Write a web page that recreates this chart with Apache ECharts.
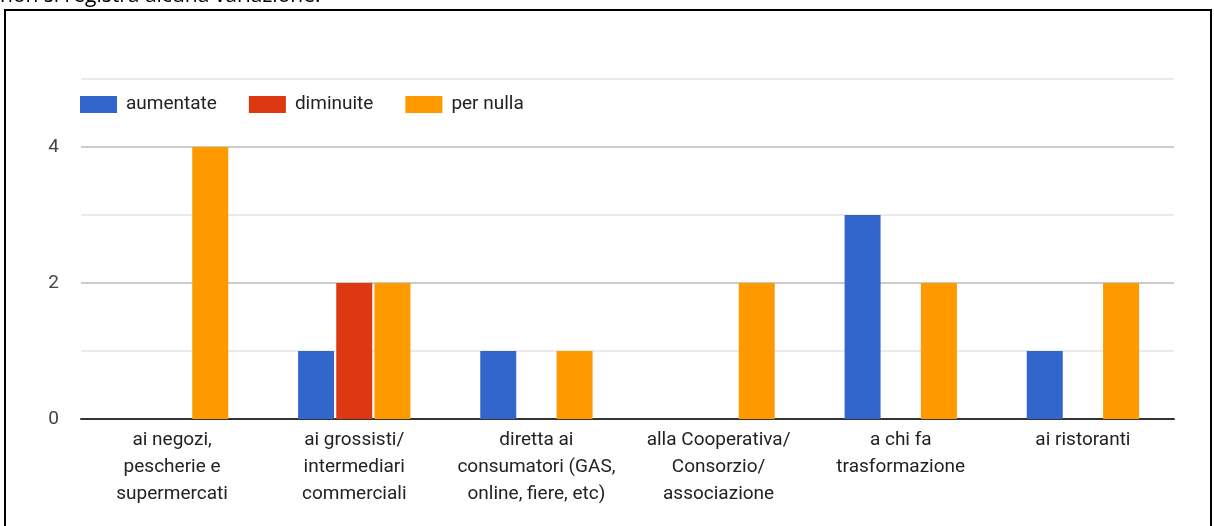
<!DOCTYPE html>
<html><head><meta charset="utf-8">
<script src="https://cdn.jsdelivr.net/npm/echarts@6/dist/echarts.min.js"></script>
<style>html,body{margin:0;padding:0;background:#fff}#c{width:1214px;height:526px}</style>
</head><body><div id="c"></div>
<script>
const categories = [
  "ai negozi,\npescherie e\nsupermercati",
  "ai grossisti/\nintermediari\ncommerciali",
  "diretta ai\nconsumatori (GAS,\nonline, fiere, etc)",
  "alla Cooperativa/\nConsorzio/\nassociazione",
  "a chi fa\ntrasformazione",
  "ai ristoranti"
];
const seriesNames = ["aumentate", "diminuite", "per nulla"];
const aumentate = [0, 1, 1, 0, 3, 1];
const diminuite = [0, 2, 0, 0, 0, 0];
const perNulla = [4, 2, 1, 2, 2, 2];
const colors = ["#3366cc", "#dc3912", "#ff9900"];
const headerText = "non si registra alcuna variazione.";

const chart = echarts.init(document.getElementById('c'), null, {renderer: 'canvas'});
const font = 'Roboto, "Liberation Sans", Arial, sans-serif';
const mk = (name, data, i) => ({
  name, type: 'bar', data, barWidth: 36, barGap: '6%',
  itemStyle: {color: colors[i]}, animation: false
});
chart.setOption({
  animation: false,
  color: colors,
  textStyle: {fontFamily: font},
  graphic: [
    {type: 'rect', shape: {x: 5, y: 10, width: 1206, height: 530},
     style: {fill: 'none', stroke: '#000', lineWidth: 2}},
    {type: 'text', left: 0, top: -14,
     style: {text: headerText, font: '21px "Open Sans", "Liberation Sans", sans-serif', fill: '#000'}}
  ],
  legend: {
    left: 75, top: 90, itemWidth: 37, itemHeight: 17, itemGap: 32, icon: 'rect',
    textStyle: {fontSize: 19, color: '#222', fontFamily: font, padding: [0, 0, 0, 4]}
  },
  grid: {left: 81, right: 40, top: 79, bottom: 107},
  xAxis: {
    type: 'category', data: categories,
    axisLine: {lineStyle: {color: '#333', width: 2}},
    axisTick: {show: false},
    axisLabel: {fontSize: 19, color: '#222', lineHeight: 27, margin: 8, interval: 0, fontFamily: font}
  },
  yAxis: {
    type: 'value', min: 0, max: 5, interval: 1,
    axisLine: {show: false}, axisTick: {show: false},
    axisLabel: {fontSize: 19, color: '#444', margin: 22, fontFamily: font,
      formatter: v => (v % 2 === 0 ? String(v) : '')},
    splitLine: {lineStyle: {color: ['#cccccc', '#ebebeb'], width: 2}}
  },
  series: [mk(seriesNames[0], aumentate, 0), mk(seriesNames[1], diminuite, 1), mk(seriesNames[2], perNulla, 2)]
});
</script></body></html>
